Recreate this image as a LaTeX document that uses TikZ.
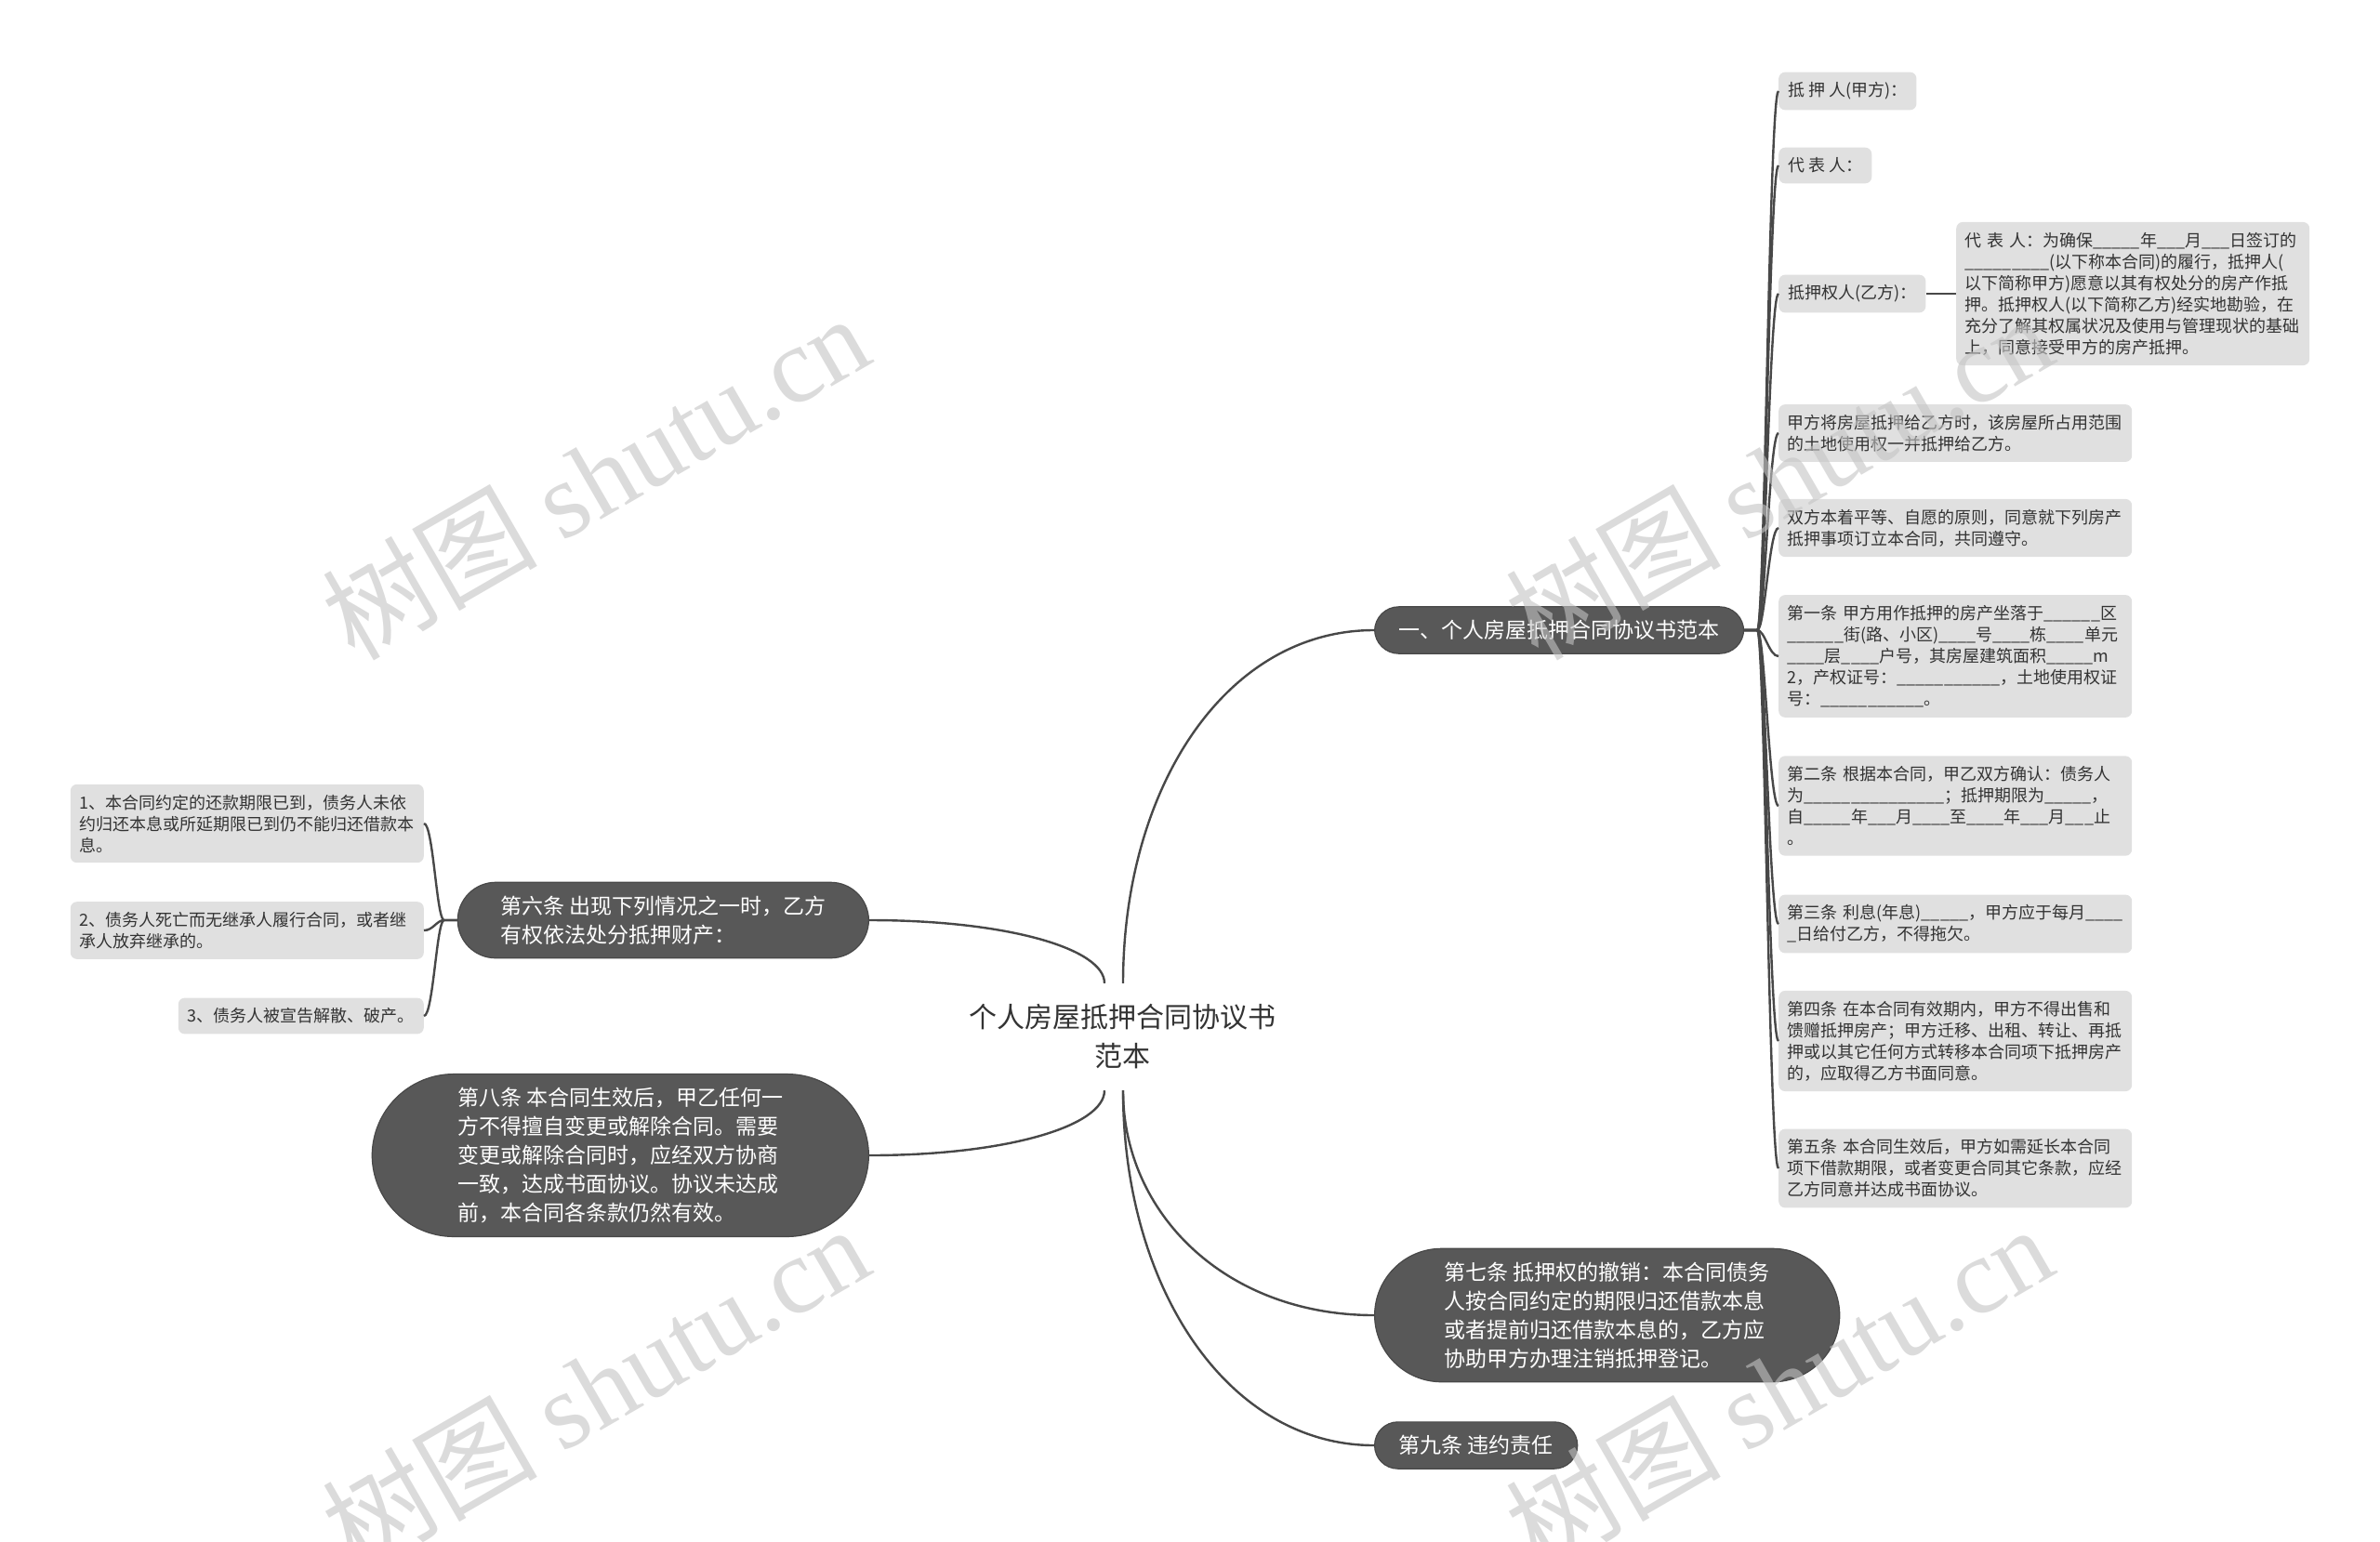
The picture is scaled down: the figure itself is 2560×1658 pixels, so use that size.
\documentclass[tikz,border=0pt]{standalone}
\usepackage{fontspec}
\setmainfont{Noto Sans CJK SC}
\newfontfamily\wmlatin{Liberation Serif}
\usetikzlibrary{calc}
\definecolor{darkfill}{RGB}{88,88,88}
\definecolor{darkline}{RGB}{72,72,72}
\definecolor{leaffill}{RGB}{224,224,224}
\definecolor{txt}{RGB}{51,51,51}
\definecolor{wm}{RGB}{196,196,196}
\ExplSyntaxOn
\cs_new:Npn \Blank #1 {\prg_replicate:nn {#1} {\_}}
\ExplSyntaxOff
\begin{document}
\begin{tikzpicture}[x=1pt,y=-1pt,
  conn/.style={draw=darkline, line width=2.4pt},
  leafbox/.style={fill=leaffill, rounded corners=7pt, inner xsep=10pt, inner ysep=11pt, align=left, text=txt, font=\fontsize{18}{23}\selectfont},
  wideleaf/.style={leafbox, text width=361pt, inner xsep=9.5pt},
  darkbox/.style={rectangle, fill=darkfill, draw=darkline, line width=1.2pt, text=white, inner ysep=14.5pt, align=left, font=\fontsize{23}{31}\selectfont},
  rootbox/.style={align=center, text=txt, font=\fontsize{30}{42}\selectfont, minimum height=115pt, inner xsep=4pt, inner ysep=0pt},
  wmark/.style={text=wm, opacity=0.6, rotate=30, inner sep=0pt, font=\fontsize{116}{116}\selectfont}
]
\fill[white] (0,0) rectangle (2560,1658);
\useasboundingbox (0,0) rectangle (2560,1658);

% root
\node[rootbox] (root) at (1207,1115.5) {个人房屋抵押合同协议书\\范本};

% main branches
\node[darkbox, anchor=west, inner xsep=26pt, rounded corners=26pt] (B1) at (1478,678) {一、个人房屋抵押合同协议书范本};
\node[darkbox, anchor=east, inner xsep=46pt, rounded corners=41pt] (B6) at (935,990) {第六条 出现下列情况之一时，乙方\\有权依法处分抵押财产：};
\node[darkbox, anchor=east, inner xsep=92pt, rounded corners=88pt] (B8) at (935,1243) {第八条 本合同生效后，甲乙任何一\\方不得擅自变更或解除合同。需要\\变更或解除合同时，应经双方协商\\一致，达成书面协议。协议未达成\\前，本合同各条款仍然有效。};
\node[darkbox, anchor=west, inner xsep=75pt, rounded corners=72pt] (B7) at (1478,1415) {第七条 抵押权的撤销：本合同债务\\人按合同约定的期限归还借款本息\\或者提前归还借款本息的，乙方应\\协助甲方办理注销抵押登记。};
\node[darkbox, anchor=west, inner xsep=26pt, rounded corners=25pt] (B9) at (1478,1555) {第九条 违约责任};

% right leaves
\node[leafbox, anchor=west] (L1) at (1913,98) {抵 押 人(甲方)：};
\node[leafbox, anchor=west] (L2) at (1913,178) {代 表 人：};
\node[leafbox, anchor=west] (L3) at (1913,316) {抵押权人(乙方)：};
\node[wideleaf, anchor=west] (L3c) at (2104,316) {代 表 人：为确保\Blank{5}年\Blank{3}月\Blank{3}日签订的\\\Blank{9}(以下称本合同)的履行，抵押人(\\以下简称甲方)愿意以其有权处分的房产作抵\\押。抵押权人(以下简称乙方)经实地勘验，在\\充分了解其权属状况及使用与管理现状的基础\\上，同意接受甲方的房产抵押。};
\node[wideleaf, anchor=west] (L4) at (1913,466) {甲方将房屋抵押给乙方时，该房屋所占用范围\\的土地使用权一并抵押给乙方。};
\node[wideleaf, anchor=west] (L5) at (1913,568) {双方本着平等、自愿的原则，同意就下列房产\\抵押事项订立本合同，共同遵守。};
\node[wideleaf, anchor=west] (L6) at (1913,706) {第一条 甲方用作抵押的房产坐落于\Blank{6}区\\\Blank{6}街(路、小区)\Blank{4}号\Blank{4}栋\Blank{4}单元\\\Blank{4}层\Blank{4}户号，其房屋建筑面积\Blank{5}m\\2，产权证号：\Blank{11}，土地使用权证\\号：\Blank{11}。};
\node[wideleaf, anchor=west] (L7) at (1913,867) {第二条 根据本合同，甲乙双方确认：债务人\\为\Blank{15}；抵押期限为\Blank{5}，\\自\Blank{5}年\Blank{3}月\Blank{4}至\Blank{4}年\Blank{3}月\Blank{3}止\\。};
\node[wideleaf, anchor=west] (L8) at (1913,994) {第三条 利息(年息)\Blank{5}，甲方应于每月\Blank{4}\\\_日给付乙方，不得拖欠。};
\node[wideleaf, anchor=west] (L9) at (1913,1120) {第四条 在本合同有效期内，甲方不得出售和\\馈赠抵押房产；甲方迁移、出租、转让、再抵\\押或以其它任何方式转移本合同项下抵押房产\\的，应取得乙方书面同意。};
\node[wideleaf, anchor=west] (L10) at (1913,1257) {第五条 本合同生效后，甲方如需延长本合同\\项下借款期限，或者变更合同其它条款，应经\\乙方同意并达成书面协议。};

% left leaves
\node[wideleaf, anchor=east] (LL1) at (456,886) {1、本合同约定的还款期限已到，债务人未依\\约归还本息或所延期限已到仍不能归还借款本\\息。};
\node[wideleaf, anchor=east] (LL2) at (456,1001) {2、债务人死亡而无继承人履行合同，或者继\\承人放弃继承的。};
\node[leafbox, anchor=east] (LL3) at (456,1093) {3、债务人被宣告解散、破产。};

% connectors from root
\coordinate (rt1) at ($(root.north)+(1,0)$);
\coordinate (rt2) at ($(root.north)+(-19,0)$);
\coordinate (rb1) at ($(root.south)+(-19,0)$);
\coordinate (rb2) at ($(root.south)+(1,0)$);
\draw[conn] (rt1) .. controls +(0,-210) and +(-160,0) .. (B1.west);
\draw[conn] (rt2) .. controls +(0,-37) and +(149,0) .. (B6.east);
\draw[conn] (rb1) .. controls +(0,38) and +(149,0) .. (B8.east);
\draw[conn] (rb2) .. controls +(0,133) and +(-159,0) .. (B7.west);
\draw[conn] (rb2) .. controls +(0,210) and +(-159,0) .. (B9.west);

% right bracket
\foreach \n in {L1,L2,L3,L4,L5,L6,L7,L8,L9,L10}
  \draw[conn] (B1.east) -- ++(14,0) .. controls +(8,0) and +(-10,0) .. (\n.west);
\draw[conn] (L3.east) -- (L3c.west);

% left bracket
\foreach \n in {LL1,LL2,LL3}
  \draw[conn] (B6.west) -- ++(-14,0) .. controls +(-8,0) and +(10,0) .. (\n.east);

% watermarks
\node[wmark] (wm1) at (640,512) {树图 {\wmlatin shutu.cn}};
\node[wmark] (wm2) at (1913,512) {树图 {\wmlatin shutu.cn}};
\node[wmark] (wm3) at (640,1492) {树图 {\wmlatin shutu.cn}};
\node[wmark] (wm4) at (1913,1492) {树图 {\wmlatin shutu.cn}};
\end{tikzpicture}
\end{document}
